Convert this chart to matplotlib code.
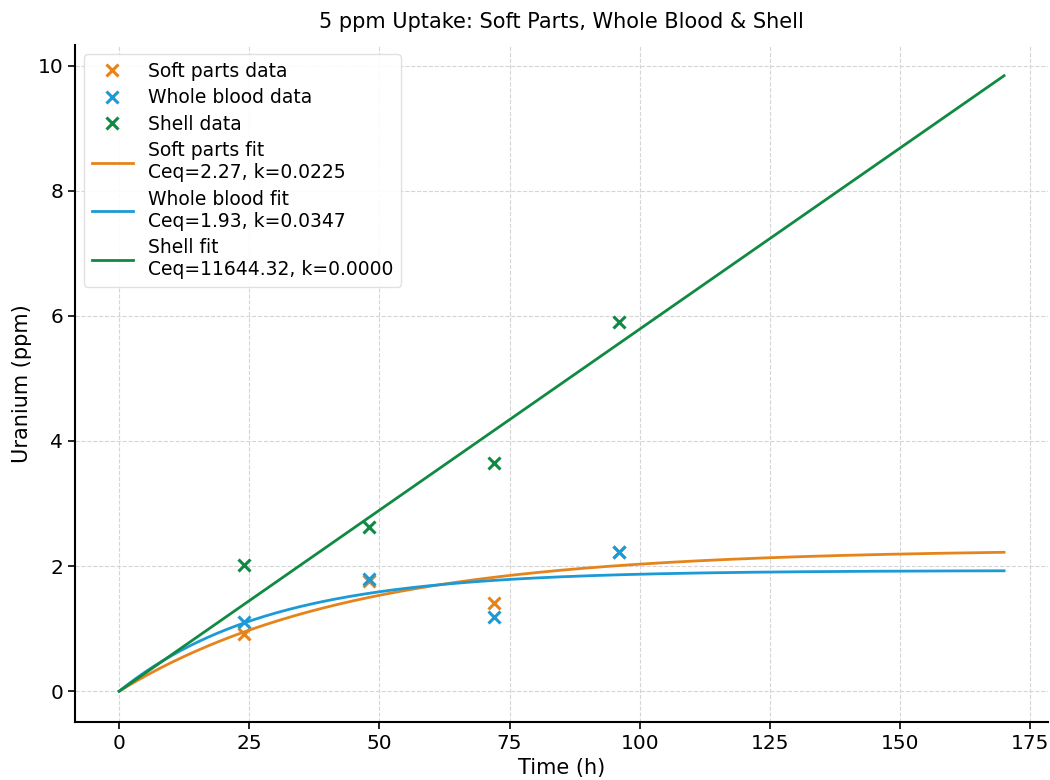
import numpy as np
import matplotlib
matplotlib.use("Agg")
import matplotlib.pyplot as plt

time_pts = [24, 48, 72, 96]
soft_vals = [0.92, 1.76, 1.41, 2.22]
blood_vals = [1.10, 1.80, 1.18, 2.22]
shell_vals = [2.01, 2.62, 3.65, 5.90]

soft_ceq, soft_k = 2.27, 0.0225
blood_ceq, blood_k = 1.93, 0.0347
shell_ceq, shell_k = 11644.32, 0.0000049725
t_max = 170

c_orange = '#E6841C'
c_blue = '#1C9AD6'
c_green = '#108A42'

fig = plt.figure(figsize=(10.5, 7.8), dpi=100)
ax = fig.add_axes([0.0714, 0.0744, 0.927, 0.868])

t = np.linspace(0, t_max, 300)
def model(ceq, k):
    return ceq * (1 - np.exp(-k * t))

ms, mew = 9, 2.2
ax.plot(time_pts, soft_vals, 'x', color=c_orange, ms=ms, mew=mew, label='Soft parts data')
ax.plot(time_pts, blood_vals, 'x', color=c_blue, ms=ms, mew=mew, label='Whole blood data')
ax.plot(time_pts, shell_vals, 'x', color=c_green, ms=ms, mew=mew, label='Shell data')
ax.plot(t, model(soft_ceq, soft_k), color=c_orange, lw=2,
        label=f'Soft parts fit\nCeq={soft_ceq:.2f}, k={soft_k:.4f}')
ax.plot(t, model(blood_ceq, blood_k), color=c_blue, lw=2,
        label=f'Whole blood fit\nCeq={blood_ceq:.2f}, k={blood_k:.4f}')
ax.plot(t, model(shell_ceq, shell_k), color=c_green, lw=2,
        label=f'Shell fit\nCeq={shell_ceq:.2f}, k={shell_k:.4f}')

ax.set_xticks([0, 25, 50, 75, 100, 125, 150, 175])
ax.set_yticks([0, 2, 4, 6, 8, 10])
ax.tick_params(labelsize=14.5, width=1.2, length=5)
ax.grid(True, linestyle='--', color='#d5d5d5', linewidth=0.8)
ax.set_axisbelow(True)
for s in ['top', 'right']:
    ax.spines[s].set_visible(False)
for s in ['left', 'bottom']:
    ax.spines[s].set_linewidth(1.5)

ax.set_xlabel('Time (h)', fontsize=15, labelpad=4)
ax.set_ylabel('Uranium (ppm)', fontsize=15)
ax.set_title('5 ppm Uptake: Soft Parts, Whole Blood & Shell', fontsize=15, pad=12)
ax.legend(loc='upper left', fontsize=13.5, framealpha=0.9, edgecolor='#dddddd',
          handlelength=2.2, labelspacing=0.4)

fig.savefig('out.png', dpi=100)
